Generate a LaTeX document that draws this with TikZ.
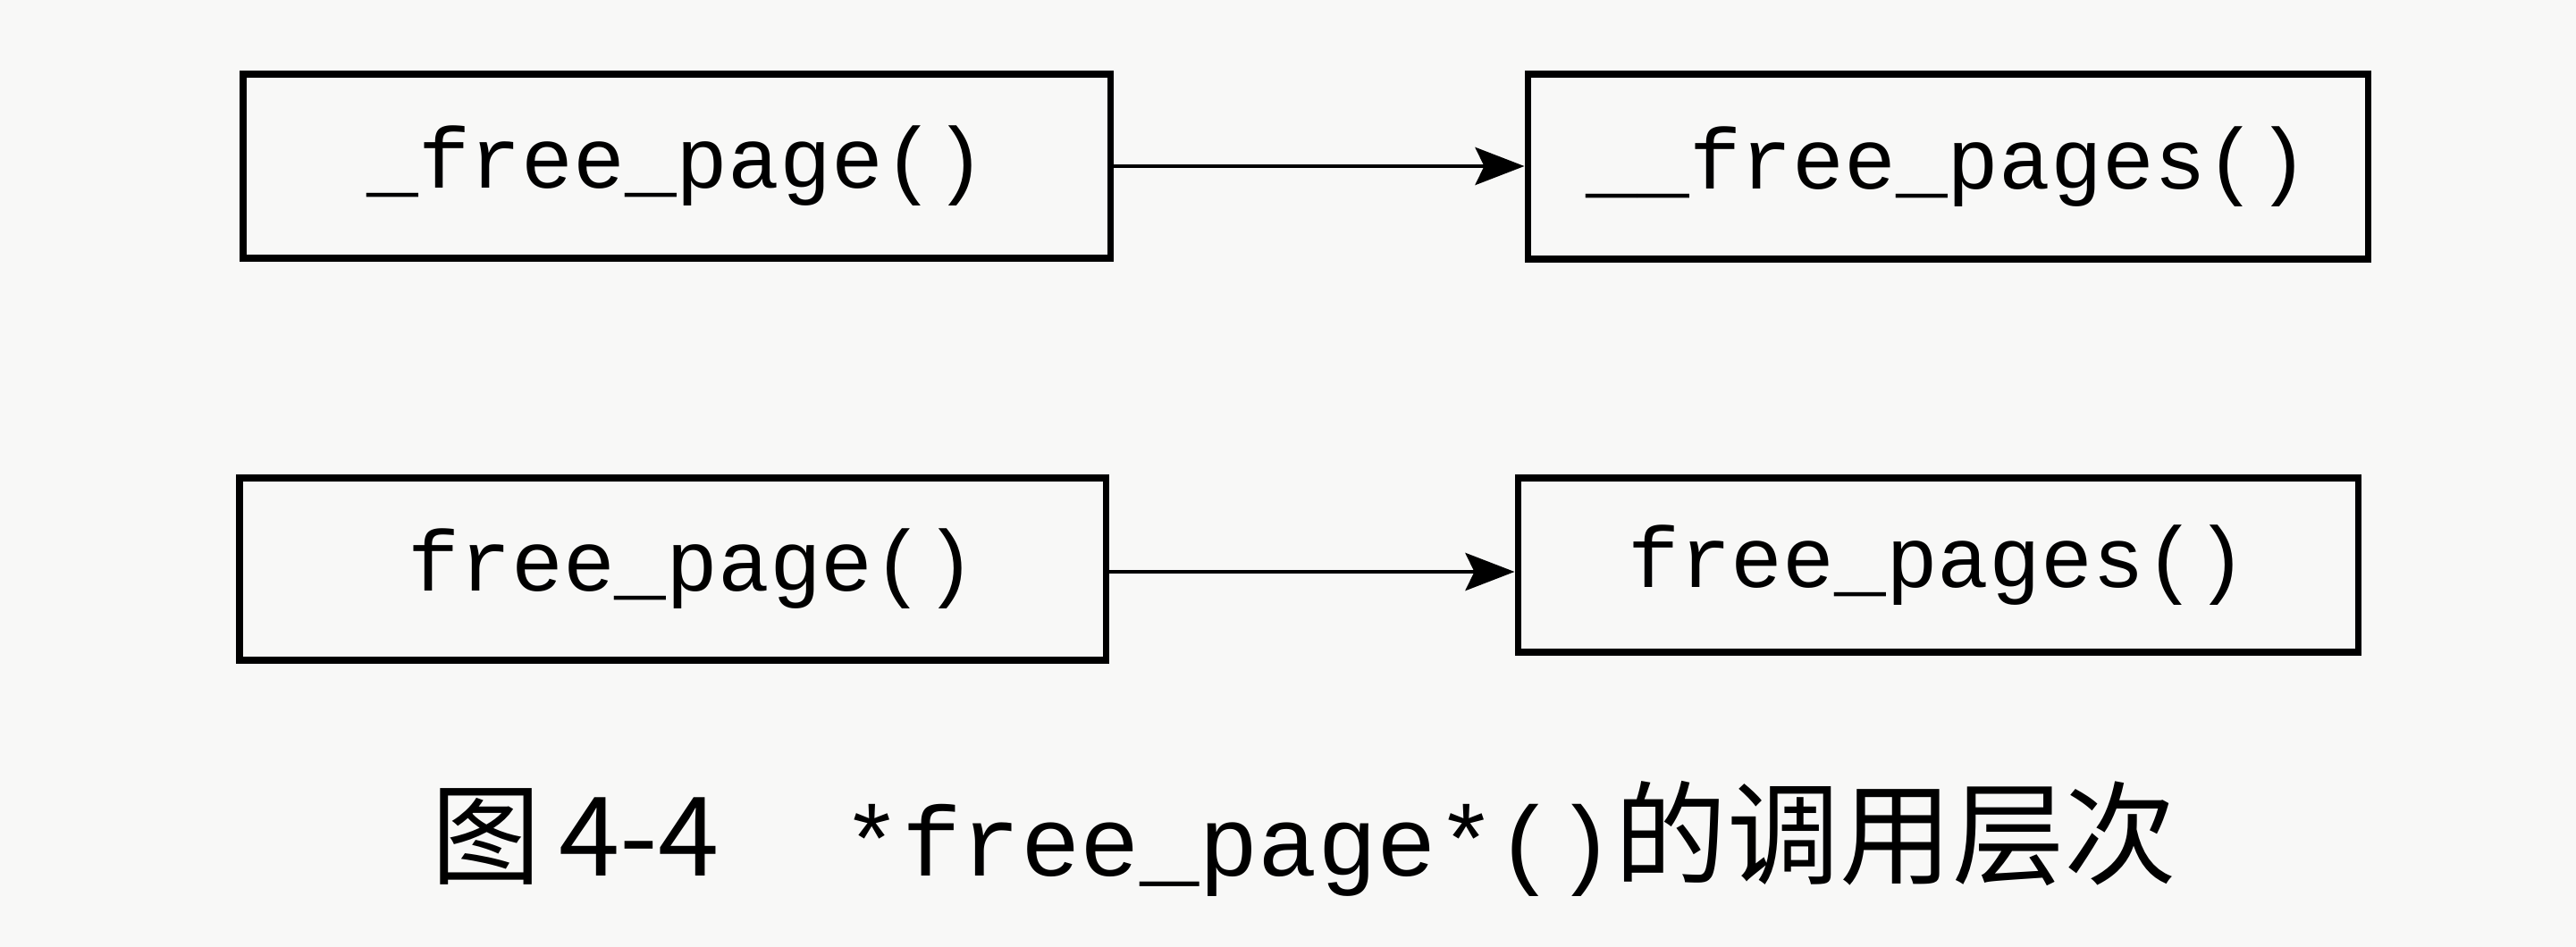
\documentclass[tikz,border=0pt]{standalone}
\usepackage{fontspec}
\setmonofont{Liberation Mono}
\newfontfamily\cjk{Noto Sans CJK SC}
\usetikzlibrary{arrows.meta}
\begin{document}
\begin{tikzpicture}[
  fbox/.style={draw=black, line width=2pt, inner sep=0pt, font=\ttfamily\fontsize{27.4}{33}\selectfont},
  arr/.style={draw=black, line width=1.4pt, -{Stealth[length=0.55cm,width=0.42cm,inset=0.1cm]}}
]
\fill[fill={rgb,255:red,248;green,248;blue,247}] (0,0) rectangle (28.82,-10.60);
\useasboundingbox (0,0) rectangle (28.82,-10.60);
\node[fbox, minimum width=9.70cm, minimum height=2.06cm] (b1) at (7.57,-1.86) {\_free\_page()};
\node[fbox, minimum width=9.40cm, minimum height=2.07cm] (b2) at (21.79,-1.865) {\_\_free\_pages()};
\node[fbox, minimum width=9.69cm, minimum height=2.04cm] (b3) at (7.525,-6.37) {\hspace{0.44cm}free\_page()};
\node[fbox, minimum width=9.40cm, minimum height=1.95cm] (b4) at (21.68,-6.325) {free\_pages()};
\draw[arr] (b1.east) -- (b1.east -| b2.west);
\draw[arr] ([yshift=-0.03cm]b3.east) -- ([yshift=-0.03cm]b3.east -| b4.west);
\node[anchor=west, inner sep=0pt] (cap) at (4.82,-9.39)
  {{\cjk\fontsize{35}{40}\selectfont 图\hspace{0.2cm}4-4}\hspace{1.38cm}{\ttfamily\fontsize{31.5}{36}\selectfont *free\_page*()}{\cjk\fontsize{35.8}{40}\selectfont 的调用层次}};
\end{tikzpicture}
\end{document}
